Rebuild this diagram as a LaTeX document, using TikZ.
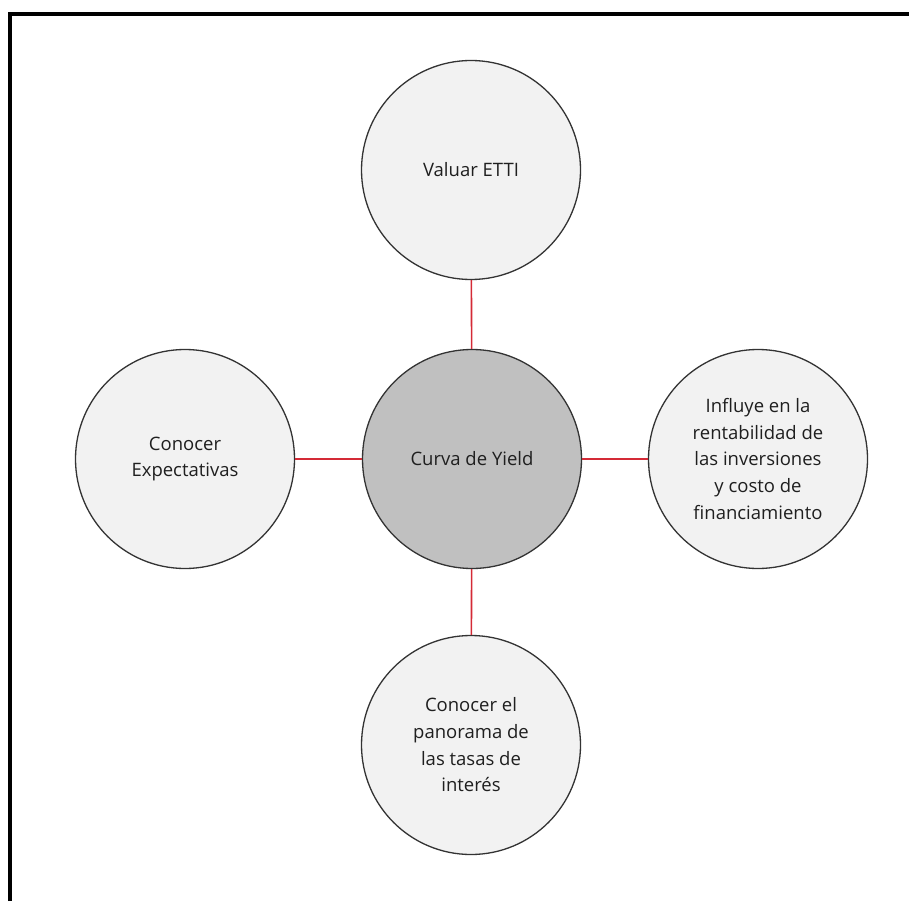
\documentclass[tikz,border=0pt]{standalone}
\usepackage{fontspec}
\setmainfont{Open Sans}
\usetikzlibrary{positioning}

\definecolor{lightfill}{HTML}{F2F2F2}
\definecolor{midfill}{HTML}{C0C0C0}
\definecolor{linkred}{HTML}{D42A36}

\begin{document}
\begin{tikzpicture}[x=1pt,y=-1pt,
  topic/.style={circle,draw=black!80,line width=1.3pt,fill=lightfill,
    minimum size=219pt,inner sep=0pt,align=center,text=black!88,
    font=\fontsize{18.5}{26.7}\selectfont},
  link/.style={draw=linkred,line width=1.6pt}]
\useasboundingbox (0,0) rectangle (909,901);
\draw[line width=4pt] (9.5,901) -- (9.5,14) -- (909,14);
\node[topic,fill=midfill] (yield) at (472,459) {Curva de Yield};
\node[topic] (valuar) at (471,170) {Valuar ETTI};
\node[topic] (expect) at (185,459) {Conocer\\Expectativas};
\node[topic] (influye) at (758,459) {Influye en la\\rentabilidad de\\las inversiones\\y costo de\\financiamiento};
\node[topic] (tasas) at (471,745) {Conocer el\\panorama de\\las tasas de\\interés};
\draw[link] (yield) -- (valuar);
\draw[link] (yield) -- (expect);
\draw[link] (yield) -- (influye);
\draw[link] (yield) -- (tasas);
\end{tikzpicture}
\end{document}
